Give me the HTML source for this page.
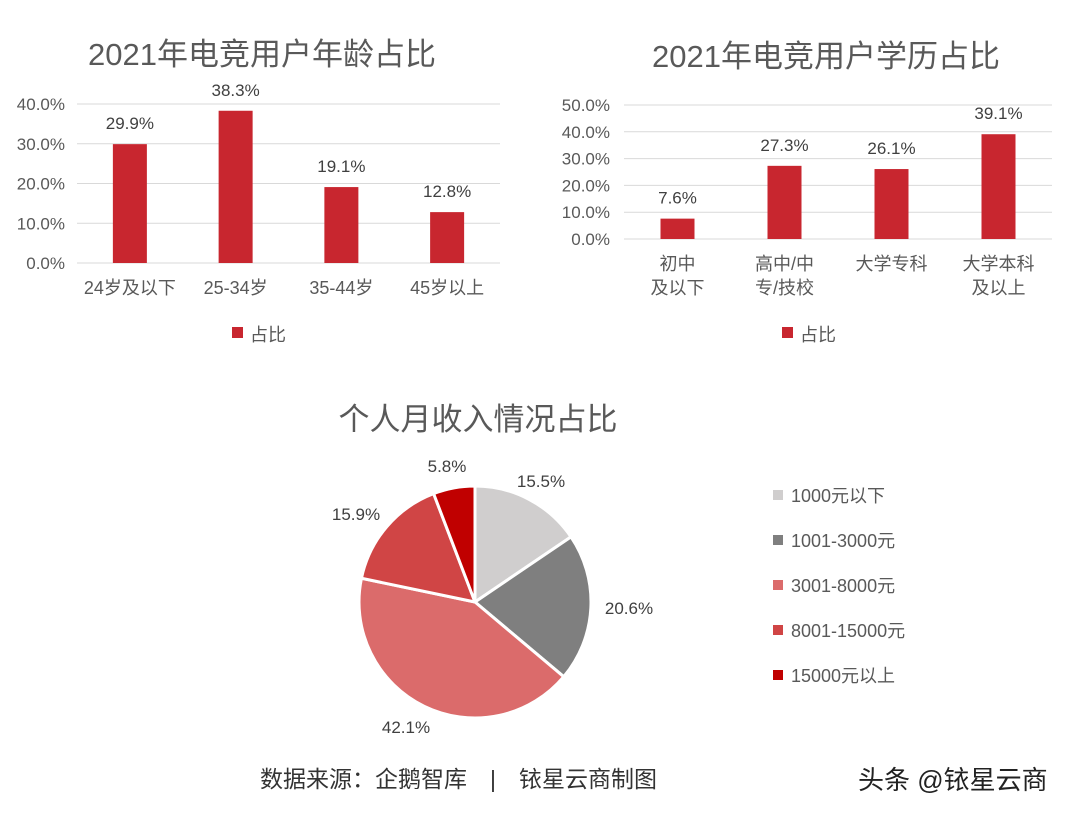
<!DOCTYPE html>
<html><head><meta charset="utf-8"><style>
body{margin:0;background:#fff;}
svg text{font-family:"Liberation Sans","Noto Sans CJK SC",sans-serif;}
</style></head><body>
<svg id="s" width="1080" height="816" xmlns="http://www.w3.org/2000/svg">
<text x="262" y="65" font-size="31" fill="#595959" text-anchor="middle">2021年电竞用户年龄占比</text>
<text x="826" y="67" font-size="31" fill="#595959" text-anchor="middle">2021年电竞用户学历占比</text>
<text x="478" y="430" font-size="31" fill="#595959" text-anchor="middle">个人月收入情况占比</text>
<g id="c1"></g>
<g id="c2"></g>
<g id="c3"></g>
<rect x="232" y="327" width="11" height="11" fill="#c8262f"/>
<text x="250" y="341" font-size="18" fill="#595959">占比</text>
<rect x="782" y="327" width="11" height="11" fill="#c8262f"/>
<text x="800" y="341" font-size="18" fill="#595959">占比</text>
<text x="260" y="787" font-size="23" fill="#333">数据来源：企鹅智库　|　铱星云商制图</text>
<text x="858" y="789" font-size="26" fill="#222">头条 @铱星云商</text>
</svg>
<script>
const NS="http://www.w3.org/2000/svg";
function mk(p,t,a,txt){const e=document.createElementNS(NS,t);for(const k in a)e.setAttribute(k,a[k]);if(txt!==undefined)e.textContent=txt;p.appendChild(e);return e;}
const ageCats=["24岁及以下","25-34岁","35-44岁","45岁以上"];
const ageVals=[29.9,38.3,19.1,12.8];
const ageTicks=[0,10,20,30,40];
const eduCats=[["初中","及以下"],["高中/中","专/技校"],["大学专科"],["大学本科","及以上"]];
const eduVals=[7.6,27.3,26.1,39.1];
const eduTicks=[0,10,20,30,40,50];
const incCats=["1000元以下","1001-3000元","3001-8000元","8001-15000元","15000元以上"];
const incVals=[15.5,20.6,42.1,15.9,5.8];
const incColors=["#d0cece","#7f7f7f","#db6b6b","#d04545","#c00000"];

function bar(g,cats,vals,ticks,x0,x1,y0,ppu,tickX,prefix){
  const n=cats.length,step=(x1-x0)/n;
  const y=v=>y0-v*ppu;
  ticks.forEach(t=>{
    const l=mk(g,"line",{x1:x0,x2:x1,y1:y(t),y2:y(t),stroke:"#d9d9d9","stroke-width":1});
    
    
    const tx=mk(g,"text",{x:tickX,y:y(t)+6,"font-size":17,fill:"#595959","text-anchor":"end"},t.toFixed(1)+"%");
    
    
  });
  vals.forEach((v,i)=>{
    const cx=x0+step*(i+0.5);
    const r=mk(g,"rect",{x:cx-17,y:y(v),width:34,height:v*ppu,fill:"#c8262f"});
    
    
    const t=mk(g,"text",{x:cx,y:y(v)-15,"font-size":17,fill:"#404040","text-anchor":"middle"},v.toFixed(1)+"%");
    
    
    const lines=Array.isArray(cats[i])?cats[i]:[cats[i]];
    lines.forEach((s,j)=>{
      const c=mk(g,"text",{x:cx,y:y0+31+j*24,"font-size":18,fill:"#595959","text-anchor":"middle"},s);
      
      
    });
  });
}
bar(document.getElementById("c1"),ageCats,ageVals,ageTicks,77,500,263,3.975,65,"age");
bar(document.getElementById("c2"),eduCats,eduVals,eduTicks,624,1052,239,2.68,610,"edu");

const g3=document.getElementById("c3");
const cx=475,cy=602,R=116;
const tot=incVals.reduce((a,b)=>a+b,0);
let a=0;
const labelPos=[[541,487],[629,614],[406,733],[356,520],[447,472]];
incVals.forEach((v,i)=>{
  const a0=a,a1=a+v/tot*2*Math.PI;a=a1;
  const p=(t)=>[cx+R*Math.sin(t),cy-R*Math.cos(t)];
  const [x0,y0]=p(a0),[x1,y1]=p(a1);
  const s=mk(g3,"path",{d:`M${cx},${cy}L${x0},${y0}A${R},${R} 0 ${a1-a0>Math.PI?1:0} 1 ${x1},${y1}Z`,fill:incColors[i],stroke:"#fff","stroke-width":3});
  
  
  const t=mk(g3,"text",{x:labelPos[i][0],y:labelPos[i][1],"font-size":17,fill:"#404040","text-anchor":"middle"},v.toFixed(1)+"%");
  
  
  const r=mk(g3,"rect",{x:773,y:490+i*45,width:10,height:10,fill:incColors[i]});
  
  
  const lt=mk(g3,"text",{x:791,y:502+i*45,"font-size":18,fill:"#595959"},incCats[i]);
  
  
});
</script>
</body></html>
